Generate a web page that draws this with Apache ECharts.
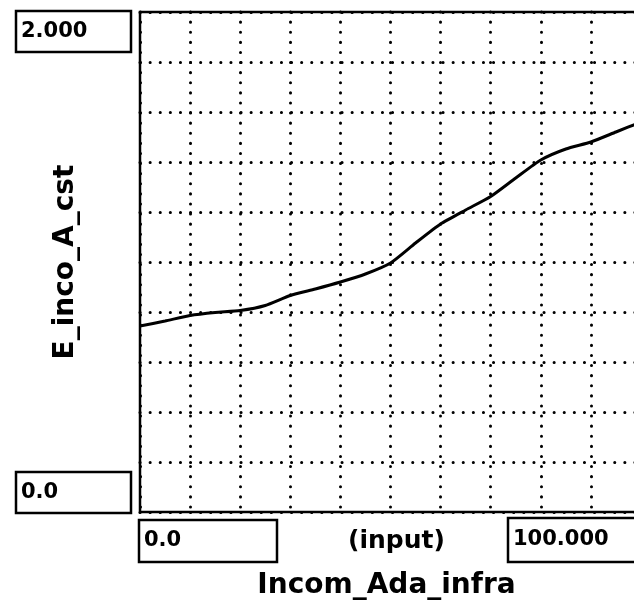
<!DOCTYPE html>
<html>
<head>
<meta charset="utf-8">
<script src="https://cdn.jsdelivr.net/npm/echarts@6/dist/echarts.min.js"></script>
<style>
  html, body { margin: 0; padding: 0; background: #fff; }
  #chart { width: 634px; height: 606px; }
</style>
</head>
<body>
<div id="chart"></div>
<script>
// Input sampled every 5 units across the range
const inputValues = [0, 5, 10, 15, 20, 25, 30, 35, 40, 45, 50, 55, 60, 65, 70, 75, 80, 85, 90, 95, 100];
// E_inco_A_cst response at each input
const outputValues = [0.744, 0.764, 0.786, 0.798, 0.806, 0.826, 0.866, 0.892, 0.92, 0.952, 0.996,
  1.076, 1.152, 1.208, 1.262, 1.336, 1.408, 1.452, 1.48, 1.52, 1.56];

// Axis ranges and the boxed end labels
const xRange = [0, 100];
const yRange = [0, 2];
const xEndLabels = ['0.0', '100.000'];
const yEndLabels = ['0.0', '2.000'];
const xTitle = '(input)';
const xName = 'Incom_Ada_infra';
const yName = 'E_inco_A_cst';

const chart = echarts.init(document.getElementById('chart'), null, { renderer: 'canvas' });

const dotted = { color: '#000', width: 3, type: [0.1, 10], cap: 'round' };

chart.setOption({
  animation: false,
  backgroundColor: '#fff',
  grid: {
    left: 140, top: 12, width: 501, height: 500,
    outerBoundsMode: 'none',
    show: true, borderColor: '#000', borderWidth: 2.5, backgroundColor: 'transparent'
  },
  xAxis: {
    type: 'value', min: xRange[0], max: xRange[1], interval: 10,
    axisLine: { show: false }, axisTick: { show: false }, axisLabel: { show: false },
    splitLine: { show: true, lineStyle: dotted }
  },
  yAxis: {
    type: 'value', min: yRange[0], max: yRange[1], interval: 0.2,
    axisLine: { show: false }, axisTick: { show: false }, axisLabel: { show: false },
    splitLine: { show: true, lineStyle: dotted }
  },
  series: [{
    type: 'line',
    data: inputValues.map((x, i) => [x, outputValues[i]]),
    showSymbol: false,
    smooth: 0.2,
    clip: true,
    lineStyle: { color: '#000', width: 3 }
  }]
});

// Boxed end-of-axis labels and titles, placed from the axis scales
const fontNum = 'bold 21px "DejaVu Sans"';
const fontTitle = 'bold 25px "DejaVu Sans"';
const fontName = 'bold 28px "DejaVu Sans"';
const px = v => chart.convertToPixel({ gridIndex: 0 }, v);

const yTop = px([0, yRange[1]]);
const yBot = px([0, yRange[0]]);
const xLeft = px([xRange[0], 0]);
const xRight = px([xRange[1], 0]);

function box(x, y, w, h, label) {
  return {
    type: 'group', x: x, y: y,
    children: [
      { type: 'rect', shape: { x: 0, y: 0, width: w, height: h },
        style: { fill: '#fff', stroke: '#000', lineWidth: 2.5 } },
      { type: 'text', x: 5, y: h / 2,
        style: { text: label, font: fontNum, fill: '#000', align: 'left', verticalAlign: 'middle' } }
    ]
  };
}

const gridLeft = xLeft[0];
const gridBottom = yBot[1];

chart.setOption({
  graphic: [
    box(gridLeft - 124, yTop[1] - 1, 115, 41, yEndLabels[1]),
    box(gridLeft - 124, yBot[1] - 40, 115, 41, yEndLabels[0]),
    box(xLeft[0] - 1, gridBottom + 8, 138, 42, xEndLabels[0]),
    box(xRight[0] - 133, gridBottom + 6, 138, 44, xEndLabels[1]),
    { type: 'text', x: (xLeft[0] + xRight[0]) / 2 + 6, y: gridBottom + 29,
      style: { text: xTitle, font: fontTitle, fill: '#000', align: 'center', verticalAlign: 'middle' } },
    { type: 'text', x: (xLeft[0] + xRight[0]) / 2 - 4, y: gridBottom + 74,
      style: { text: xName, font: fontName, fill: '#000', align: 'center', verticalAlign: 'middle' } },
    { type: 'text', x: 66, y: (yTop[1] + yBot[1]) / 2, rotation: Math.PI / 2,
      style: { text: yName, font: fontName, fill: '#000', align: 'center', verticalAlign: 'middle' } }
  ]
});
</script>
</body>
</html>
